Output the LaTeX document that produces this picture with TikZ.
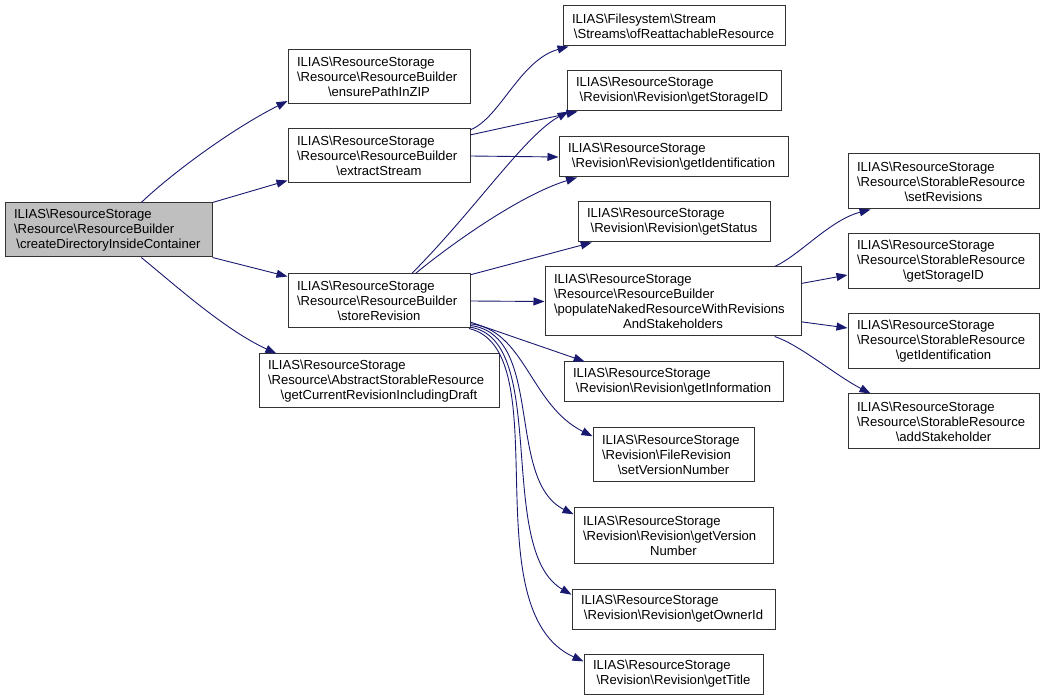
\documentclass[tikz,border=0pt]{standalone}
\usepackage{fontspec}
\setmainfont{Liberation Sans}
\usepackage{tikz}
\usetikzlibrary{arrows.meta}
\definecolor{callblue}{HTML}{191970}
\newcommand{\bsl}{\textbackslash}
\newcommand{\callfont}{\fontsize{13.1}{15}\selectfont}
\newcommand{\lastln}[1]{\par{\centering #1\par}}
\hyphenpenalty=10000

\begin{document}
\begin{tikzpicture}[
  x=1pt, y=1pt,
  >={Triangle[length=11pt,width=8pt]},
  fnnode/.style={draw=black!80, fill=white, line width=1pt, inner xsep=9pt, inner ysep=0pt, align=left, font=\callfont},
  rootnode/.style={fnnode, fill=black!25},
  callmap/.style={->, draw=callblue, line width=0.9pt}
]
  \useasboundingbox (0,0) rectangle (1045,-700);
  % caller
  \node[rootnode, text width=189pt, minimum height=54pt] (root) at (108.5,-230) {ILIAS\bsl ResourceStorage\\\bsl Resource\bsl ResourceBuilder\lastln{\bsl createDirectoryInsideContainer}};
  % first level
  \node[fnnode, text width=164pt, minimum height=54pt] (ensure) at (379,-76.5) {ILIAS\bsl ResourceStorage\\\bsl Resource\bsl ResourceBuilder\lastln{\bsl ensurePathInZIP}};
  \node[fnnode, text width=164pt, minimum height=54pt] (extract) at (379,-156) {ILIAS\bsl ResourceStorage\\\bsl Resource\bsl ResourceBuilder\lastln{\bsl extractStream}};
  \node[fnnode, text width=164pt, minimum height=54pt] (store) at (379,-301) {ILIAS\bsl ResourceStorage\\\bsl Resource\bsl ResourceBuilder\lastln{\bsl storeRevision}};
  \node[fnnode, text width=222pt, minimum height=54pt] (getcur) at (379,-381) {ILIAS\bsl ResourceStorage\\\bsl Resource\bsl AbstractStorableResource\lastln{\bsl getCurrentRevisionIncludingDraft}};
  % second level
  \node[fnnode, text width=204pt, minimum height=40pt] (ofre) at (674,-26) {ILIAS\bsl Filesystem\bsl Stream\lastln{\bsl Streams\bsl ofReattachableResource}};
  \node[fnnode, text width=196pt, minimum height=40pt] (revsid) at (674,-91) {ILIAS\bsl ResourceStorage\lastln{\bsl Revision\bsl Revision\bsl getStorageID}};
  \node[fnnode, text width=211pt, minimum height=40pt] (revident) at (673.5,-157) {ILIAS\bsl ResourceStorage\lastln{\bsl Revision\bsl Revision\bsl getIdentification}};
  \node[fnnode, text width=174pt, minimum height=40pt] (getstatus) at (674,-222) {ILIAS\bsl ResourceStorage\lastln{\bsl Revision\bsl Revision\bsl getStatus}};
  \node[fnnode, text width=238pt, minimum height=69pt] (populate) at (673,-301.5) {ILIAS\bsl ResourceStorage\\\bsl Resource\bsl ResourceBuilder\\\bsl populateNakedResourceWithRevisions\lastln{AndStakeholders}};
  \node[fnnode, text width=201pt, minimum height=40pt] (getinfo) at (673.5,-382) {ILIAS\bsl ResourceStorage\lastln{\bsl Revision\bsl Revision\bsl getInformation}};
  \node[fnnode, text width=143pt, minimum height=54pt] (setver) at (673.5,-455) {ILIAS\bsl ResourceStorage\\\bsl Revision\bsl FileRevision\lastln{\bsl setVersionNumber}};
  \node[fnnode, text width=181pt, minimum height=55pt] (getvernum) at (673.5,-535.5) {ILIAS\bsl ResourceStorage\\\bsl Revision\bsl Revision\bsl getVersion\lastln{Number}};
  \node[fnnode, text width=185pt, minimum height=40pt] (getowner) at (673.5,-609) {ILIAS\bsl ResourceStorage\lastln{\bsl Revision\bsl Revision\bsl getOwnerId}};
  \node[fnnode, text width=161pt, minimum height=40pt] (gettitle) at (673.5,-674) {ILIAS\bsl ResourceStorage\lastln{\bsl Revision\bsl Revision\bsl getTitle}};
  % third level
  \node[fnnode, text width=173pt, minimum height=55pt] (setrev) at (943.5,-181.5) {ILIAS\bsl ResourceStorage\\\bsl Resource\bsl StorableResource\lastln{\bsl setRevisions}};
  \node[fnnode, text width=173pt, minimum height=55pt] (srsid) at (943.5,-261.5) {ILIAS\bsl ResourceStorage\\\bsl Resource\bsl StorableResource\lastln{\bsl getStorageID}};
  \node[fnnode, text width=173pt, minimum height=55pt] (srident) at (943.5,-341.5) {ILIAS\bsl ResourceStorage\\\bsl Resource\bsl StorableResource\lastln{\bsl getIdentification}};
  \node[fnnode, text width=173pt, minimum height=55pt] (addstake) at (943.5,-421.5) {ILIAS\bsl ResourceStorage\\\bsl Resource\bsl StorableResource\lastln{\bsl addStakeholder}};
  % calls
  \draw[callmap] (root.40) .. controls (170,-175) and (230,-130) .. (ensure.195);
  \draw[callmap] (root.north east) -- (extract.195);
  \draw[callmap] (root.south east) -- (store.165);
  \draw[callmap] (root.-40) .. controls (175,-285) and (225,-330) .. (getcur.165);
  \draw[callmap] (extract.16) .. controls (500,-118) and (520,-60) .. (ofre.191);
  \draw[callmap] (extract.13) -- (revsid.192);
  \draw[callmap] (extract.east) -- (revident.west);
  \draw[callmap] (store.40) .. controls (475,-210) and (525,-135) .. (revsid.191);
  \draw[callmap] (store.37) .. controls (450,-245) and (520,-195) .. (revident.192);
  \draw[callmap] (store.16) -- (getstatus.194);
  \draw[callmap] (store.east) -- (populate.west);
  \draw[callmap] (store.-13) -- (getinfo.167);
  \draw[callmap] (store.-14) .. controls (525,-330) and (530,-405) .. (setver.167);
  \draw[callmap] (store.-15) .. controls (545,-335) and (505,-480) .. (getvernum.168);
  \draw[callmap] (store.-16) .. controls (550,-340) and (495,-550) .. (getowner.172);
  \draw[callmap] (store.-17) .. controls (560,-350) and (470,-610) .. (gettitle.172);
  \draw[callmap] (populate.19) .. controls (800,-255) and (830,-220) .. (setrev.201);
  \draw[callmap] (populate.8) -- (srsid.188);
  \draw[callmap] (populate.-9) -- (srident.172);
  \draw[callmap] (populate.-19) .. controls (800,-345) and (835,-375) .. (addstake.159);
\end{tikzpicture}
\end{document}
